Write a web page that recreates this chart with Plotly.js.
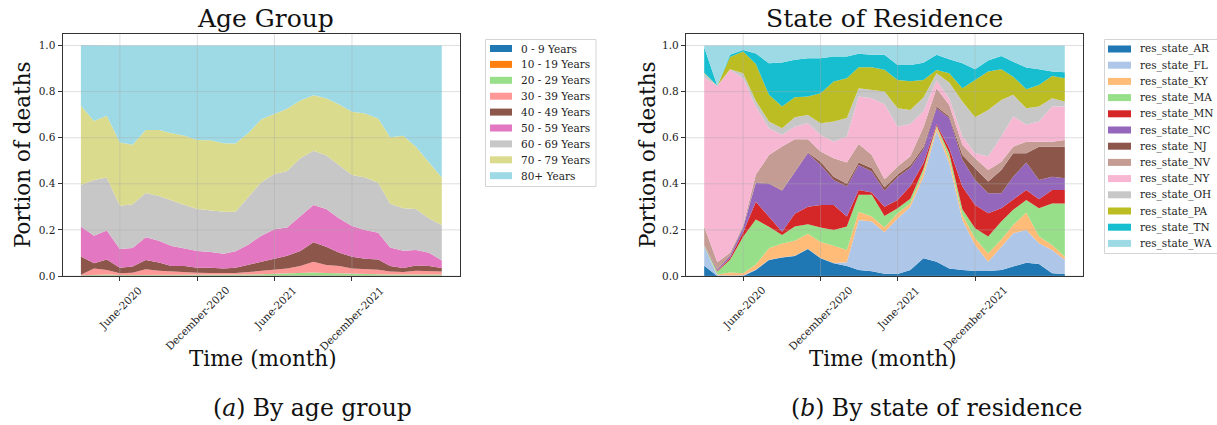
<!DOCTYPE html>
<html>
<head>
<meta charset="utf-8">
<script src="https://cdn.plot.ly/plotly-3.0.1.min.js"></script>
<style>
  html, body { margin: 0; padding: 0; background: #ffffff; }
  #chart { width: 1217px; height: 425px; }
</style>
</head>
<body>
<div id="chart"></div>
<script>
// ---------------- DATA ----------------
const months = ['2020-03-01','2020-04-01','2020-05-01','2020-06-01','2020-07-01','2020-08-01','2020-09-01','2020-10-01','2020-11-01','2020-12-01',
                '2021-01-01','2021-02-01','2021-03-01','2021-04-01','2021-05-01','2021-06-01','2021-07-01','2021-08-01','2021-09-01','2021-10-01',
                '2021-11-01','2021-12-01','2022-01-01','2022-02-01','2022-03-01','2022-04-01','2022-05-01','2022-06-01','2022-07-01'];

const tickDates = ['2020-06-01','2020-12-01','2021-06-01','2021-12-01'];
const tickLabels = ['June-2020','December-2020','June-2021','December-2021'];
const yTicks = [0, 0.2, 0.4, 0.6, 0.8, 1.0];
const yTickLabels = ['0.0','0.2','0.4','0.6','0.8','1.0'];

// Age group shares (panel a)
const ageNames = ['0 - 9 Years','10 - 19 Years','20 - 29 Years','30 - 39 Years','40 - 49 Years','50 - 59 Years','60 - 69 Years','70 - 79 Years','80+ Years'];
const age_0_9   = [0.001,0.001,0.001,0.001,0.001,0.001,0.001,0.001,0.001,0.001,0.001,0.001,0.001,0.001,0.001,0.001,0.001,0.001,0.001,0.001,0.001,0.001,0.001,0.001,0.001,0.001,0.001,0.001,0.001];
const age_10_19 = [0.001,0.001,0.001,0.001,0.001,0.001,0.001,0.001,0.001,0.001,0.001,0.001,0.001,0.001,0.001,0.001,0.001,0.001,0.001,0.001,0.001,0.001,0.001,0.001,0.001,0.001,0.001,0.001,0.001];
const age_20_29 = [0.001,0.003,0.004,0.002,0.002,0.005,0.004,0.003,0.003,0.002,0.002,0.002,0.003,0.004,0.006,0.008,0.009,0.011,0.013,0.011,0.009,0.007,0.006,0.005,0.004,0.004,0.004,0.004,0.004];
const age_30_39 = [0.002,0.027,0.020,0.008,0.010,0.022,0.017,0.014,0.012,0.010,0.009,0.008,0.008,0.011,0.015,0.019,0.021,0.030,0.047,0.035,0.032,0.024,0.022,0.020,0.014,0.011,0.017,0.014,0.013];
const age_40_49 = [0.080,0.023,0.046,0.024,0.027,0.040,0.036,0.024,0.026,0.022,0.023,0.020,0.023,0.031,0.039,0.046,0.056,0.066,0.084,0.079,0.058,0.051,0.045,0.045,0.023,0.018,0.023,0.023,0.016];
const age_50_59 = [0.130,0.120,0.125,0.081,0.081,0.099,0.094,0.087,0.076,0.073,0.068,0.065,0.071,0.089,0.113,0.128,0.122,0.149,0.162,0.164,0.149,0.133,0.125,0.116,0.081,0.075,0.067,0.058,0.032];
const age_60_69 = [0.180,0.242,0.230,0.188,0.189,0.192,0.194,0.197,0.189,0.182,0.181,0.182,0.172,0.207,0.232,0.240,0.246,0.253,0.235,0.233,0.232,0.221,0.227,0.217,0.189,0.184,0.178,0.149,0.154];
const age_70_79 = [0.344,0.256,0.268,0.274,0.258,0.274,0.287,0.292,0.301,0.299,0.304,0.297,0.296,0.278,0.273,0.259,0.270,0.250,0.241,0.247,0.262,0.275,0.278,0.278,0.289,0.314,0.270,0.242,0.206];
const age_80_plus = [0.262,0.327,0.305,0.421,0.431,0.366,0.366,0.381,0.391,0.410,0.411,0.424,0.425,0.378,0.320,0.298,0.274,0.239,0.216,0.229,0.256,0.287,0.295,0.317,0.398,0.392,0.439,0.508,0.573];
const ageColors = ['#1f77b4','#ff7f0e','#98df8a','#ff9896','#8c564b','#e377c2','#c7c7c7','#dbdb8d','#9edae5'];

// State of residence shares (panel b)
const stateNames = ['res_state_AR','res_state_FL','res_state_KY','res_state_MA','res_state_MN','res_state_NC','res_state_NJ','res_state_NV','res_state_NY','res_state_OH','res_state_PA','res_state_TN','res_state_WA'];
const res_AR = [0.045,0.000,0.000,0.000,0.026,0.069,0.080,0.087,0.117,0.077,0.055,0.043,0.026,0.021,0.010,0.009,0.026,0.077,0.062,0.033,0.026,0.022,0.022,0.026,0.041,0.058,0.052,0.012,0.009];
const res_FL = [0.085,0.003,0.002,0.003,0.002,0.001,0.001,0.001,0.001,0.001,0.001,0.017,0.217,0.215,0.180,0.241,0.274,0.353,0.568,0.456,0.217,0.113,0.040,0.099,0.144,0.142,0.090,0.101,0.061];
const res_KY = [0.001,0.003,0.013,0.009,0.022,0.050,0.060,0.065,0.065,0.070,0.075,0.053,0.036,0.022,0.020,0.022,0.015,0.020,0.015,0.021,0.022,0.029,0.036,0.033,0.036,0.075,0.029,0.022,0.014];
const res_MA = [0.002,0.014,0.055,0.158,0.195,0.094,0.037,0.062,0.042,0.062,0.069,0.102,0.073,0.094,0.050,0.022,0.020,0.015,0.007,0.023,0.025,0.043,0.073,0.078,0.066,0.055,0.123,0.180,0.231];
const res_MN = [0.001,0.003,0.008,0.020,0.077,0.044,0.014,0.055,0.076,0.098,0.108,0.043,0.021,0.010,0.040,0.036,0.055,0.025,0.006,0.021,0.098,0.101,0.101,0.058,0.043,0.043,0.039,0.058,0.058];
const res_NC = [0.001,0.005,0.010,0.020,0.083,0.142,0.178,0.183,0.232,0.174,0.109,0.130,0.109,0.091,0.070,0.100,0.080,0.060,0.070,0.131,0.116,0.109,0.087,0.065,0.101,0.119,0.084,0.058,0.051];
const res_NJ = [0.001,0.002,0.002,0.002,0.002,0.002,0.002,0.002,0.003,0.014,0.014,0.012,0.010,0.014,0.015,0.010,0.010,0.010,0.007,0.007,0.021,0.050,0.051,0.101,0.102,0.041,0.144,0.130,0.137];
const res_NV = [0.079,0.030,0.011,0.008,0.033,0.123,0.190,0.138,0.057,0.044,0.080,0.092,0.081,0.058,0.035,0.035,0.040,0.085,0.080,0.050,0.044,0.044,0.050,0.036,0.028,0.050,0.022,0.022,0.029];
const res_NY = [0.645,0.766,0.794,0.638,0.295,0.116,0.050,0.055,0.070,0.072,0.072,0.113,0.206,0.246,0.325,0.173,0.140,0.070,0.033,0.028,0.036,0.022,0.058,0.109,0.131,0.073,0.087,0.152,0.145];
const res_OH = [0.020,0.000,0.002,0.022,0.025,0.029,0.029,0.041,0.036,0.051,0.087,0.080,0.036,0.037,0.055,0.080,0.060,0.060,0.032,0.070,0.152,0.156,0.202,0.159,0.094,0.072,0.065,0.036,0.022];
const res_PA = [0.002,0.000,0.053,0.094,0.160,0.116,0.094,0.087,0.080,0.130,0.174,0.173,0.091,0.098,0.095,0.122,0.125,0.075,0.014,0.040,0.058,0.162,0.167,0.133,0.079,0.082,0.094,0.097,0.101];
const res_TN = [0.111,0.000,0.010,0.007,0.045,0.137,0.191,0.162,0.166,0.152,0.108,0.094,0.058,0.054,0.065,0.065,0.070,0.075,0.066,0.060,0.108,0.046,0.048,0.058,0.065,0.095,0.068,0.019,0.026];
const res_WA = [0.007,0.174,0.040,0.019,0.035,0.077,0.074,0.062,0.055,0.055,0.048,0.048,0.036,0.040,0.040,0.085,0.085,0.075,0.040,0.060,0.077,0.103,0.065,0.045,0.070,0.095,0.103,0.113,0.116];
const stateColors = ['#1f77b4','#aec7e8','#ffbb78','#98df8a','#d62728','#9467bd','#8c564b','#c49c94','#f7b6d2','#c7c7c7','#bcbd22','#17becf','#9edae5'];

// ---------------- BUILD ----------------
const W = 1217, H = 425;
const PX = x => x / W;
const PY = y => 1 - y / H;
const SERIF = 'DejaVu Serif, serif';

const ageSeries = [age_0_9, age_10_19, age_20_29, age_30_39, age_40_49, age_50_59, age_60_69, age_70_79, age_80_plus];
const stateSeries = [res_AR, res_FL, res_KY, res_MA, res_MN, res_NC, res_NJ, res_NV, res_NY, res_OH, res_PA, res_TN, res_WA];

const traces = [];
ageSeries.forEach((vals, i) => {
  traces.push({
    type: 'scatter', mode: 'lines', x: months, y: vals, name: ageNames[i],
    stackgroup: 'age', line: {width: 0, color: ageColors[i]}, fillcolor: ageColors[i],
    xaxis: 'x', yaxis: 'y', showlegend: false, hoverinfo: 'skip'
  });
});
stateSeries.forEach((vals, i) => {
  traces.push({
    type: 'scatter', mode: 'lines', x: months, y: vals, name: stateNames[i],
    stackgroup: 'state', line: {width: 0, color: stateColors[i]}, fillcolor: stateColors[i],
    xaxis: 'x2', yaxis: 'y2', showlegend: false, hoverinfo: 'skip'
  });
});

const xRange = ['2020-01-18', '2022-08-13'];
function xAxis(domain, anchor) {
  return {
    domain: domain, anchor: anchor, type: 'date', range: xRange,
    tickmode: 'array', tickvals: tickDates, ticktext: tickLabels, showticklabels: false,
    ticks: 'outside', ticklen: 4, tickcolor: '#333', tickwidth: 1,
    showline: true, mirror: true, linecolor: '#333', linewidth: 1.2,
    showgrid: false, zeroline: false, fixedrange: true
  };
}
function yAxis(anchor) {
  return {
    domain: [PY(276), PY(34)], anchor: anchor, range: [0, 1.05],
    tickmode: 'array', tickvals: yTicks, ticktext: yTickLabels,
    tickfont: {family: SERIF, size: 10.5, color: '#222'},
    ticks: 'outside', ticklen: 4, tickcolor: '#333', tickwidth: 1,
    showline: true, mirror: true, linecolor: '#333', linewidth: 1.2,
    showgrid: false, zeroline: false, fixedrange: true
  };
}

// grid lines drawn above the areas (as in the reference)
const shapes = [];
const gridColor = 'rgba(170,170,170,0.38)';
[['x','y'],['x2','y2']].forEach(([xa, ya]) => {
  tickDates.forEach(d => shapes.push({type: 'line', xref: xa, yref: ya + ' domain', x0: d, x1: d, y0: 0, y1: 1,
    line: {color: gridColor, width: 1}, layer: 'above'}));
  yTicks.forEach(v => shapes.push({type: 'line', xref: xa + ' domain', yref: ya, x0: 0, x1: 1, y0: v, y1: v,
    line: {color: gridColor, width: 1}, layer: 'above'}));
});

const annotations = [];
function txt(text, x, y, size, opts) {
  annotations.push(Object.assign({
    text: text, xref: 'paper', yref: 'paper', x: PX(x), y: PY(y),
    xanchor: 'center', yanchor: 'middle', showarrow: false,
    font: {family: SERIF, size: size, color: '#111'}
  }, opts || {}));
}

// rotated x tick labels, centred under each tick (matplotlib rotation=45, ha='center')
['x','x2'].forEach(xa => {
  tickDates.forEach((d, i) => {
    annotations.push({
      text: tickLabels[i], xref: xa, yref: 'paper', x: d, y: PY(281),
      xanchor: 'center', yanchor: 'top', textangle: -45, showarrow: false,
      font: {family: SERIF, size: 10.5, color: '#222'}
    });
  });
});

// titles
txt('Age Group', 265, 18, 25);
txt('State of Residence', 884, 18, 25);
txt('Portion of deaths', 22, 155, 21.5, {textangle: -90});
txt('Portion of deaths', 647, 155, 21.5, {textangle: -90});
txt('Time (month)', 263, 358, 21.5);
txt('Time (month)', 883, 358, 21.5);
// captions
txt('(<i>a</i>) By age group', 312, 408, 23.5);
txt('(<i>b</i>) By state of residence', 936, 408, 23.5);

// legends (drawn manually to match matplotlib spacing)
function legend(names, colors, boxX0, boxX1, boxY0, boxY1, swX0, swX1, textX, rowY0, rowStep) {
  shapes.push({type: 'rect', xref: 'paper', yref: 'paper', x0: PX(boxX0), x1: PX(boxX1), y0: PY(boxY1), y1: PY(boxY0),
    line: {color: '#d4d4d4', width: 1}, fillcolor: 'rgba(255,255,255,0.8)', layer: 'above'});
  names.forEach((n, i) => {
    const cy = rowY0 + i * rowStep;
    shapes.push({type: 'rect', xref: 'paper', yref: 'paper', x0: PX(swX0), x1: PX(swX1), y0: PY(cy + 3.5), y1: PY(cy - 3.5),
      line: {width: 0}, fillcolor: colors[i], layer: 'above'});
    txt(n, textX, cy, 10.5, {xanchor: 'left', font: {family: SERIF, size: 10.5, color: '#222'}});
  });
}
legend(ageNames, ageColors, 485.5, 596, 39.5, 186.5, 490, 512, 519, 48.5, 15.9);
legend(stateNames, stateColors, 1104.5, 1225, 39.5, 253.5, 1108, 1131, 1138, 49, 16.2);

const layout = {
  width: W, height: H,
  margin: {l: 0, r: 0, t: 0, b: 0, pad: 0},
  paper_bgcolor: '#ffffff', plot_bgcolor: '#ffffff',
  showlegend: false,
  xaxis: xAxis([PX(62.7), PX(460)], 'y'),
  yaxis: yAxis('x'),
  xaxis2: xAxis([PX(686), PX(1083)], 'y2'),
  yaxis2: yAxis('x2'),
  shapes: shapes,
  annotations: annotations
};

Plotly.newPlot('chart', traces, layout, {displayModeBar: false, staticPlot: true});
</script>
</body>
</html>
